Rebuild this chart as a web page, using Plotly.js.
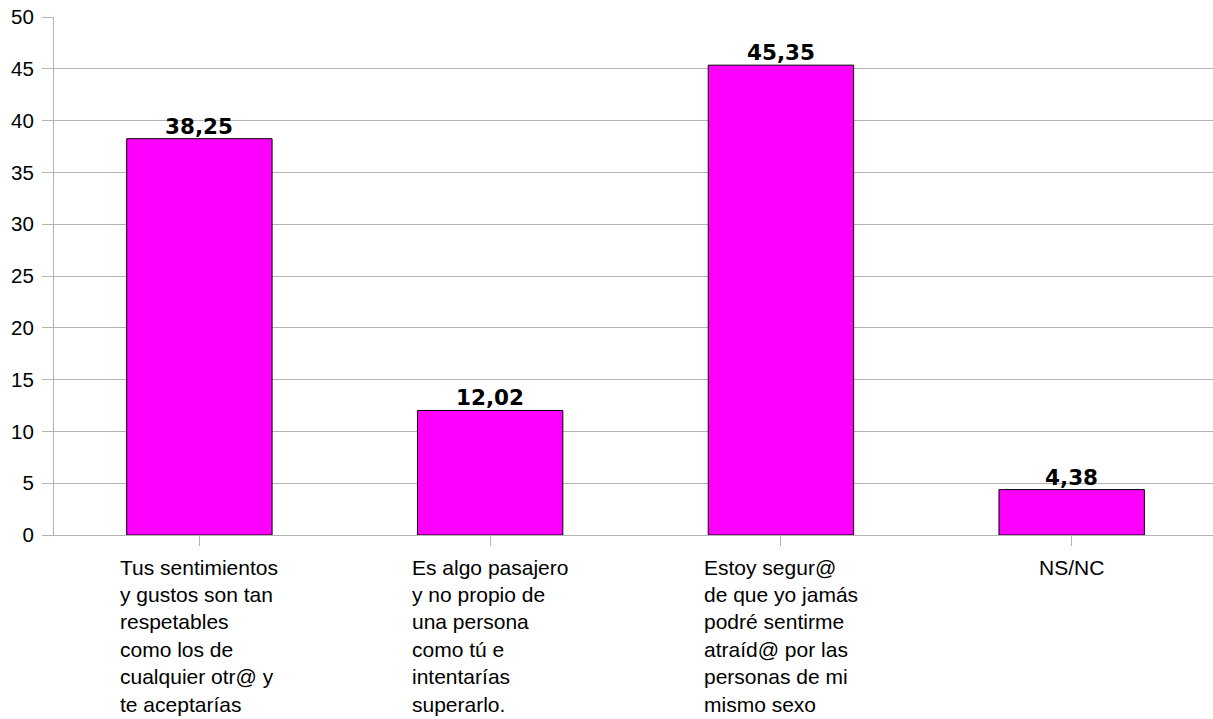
<!DOCTYPE html>
<html>
<head>
<meta charset="utf-8">
<script src="https://cdn.plot.ly/plotly-3.0.1.min.js"></script>
<style>html,body{margin:0;padding:0;background:#fff;}#chart{width:1213px;height:719px;}</style>
</head>
<body>
<div id="chart"></div>
<script>
const categories = [
  ["Tus sentimientos", "y gustos son tan", "respetables", "como los de", "cualquier otr@ y", "te aceptarías"],
  ["Es algo pasajero", "y no propio de", "una persona", "como tú e", "intentarías", "superarlo."],
  ["Estoy segur@", "de que yo jamás", "podré sentirme", "atraíd@ por las", "personas de mi", "mismo sexo"],
  ["NS/NC"]
];
const values = [38.25, 12.02, 45.35, 4.38];
const yTicks = [0, 5, 10, 15, 20, 25, 30, 35, 40, 45, 50];

const xIdx = categories.map((c, i) => i);
const grey = '#b3b3b3';
const labelFont = 'Liberation Sans, Arial, sans-serif';
const labelSize = 21;
const lineStep = 27.4;

// measure line widths so each multi-line label is a left-aligned block centred on its category
const cv = document.createElement('canvas').getContext('2d');
cv.font = labelSize + 'px "Liberation Sans"';
const fmt = v => v.toFixed(2).replace('.', ',');

const trace = {
  type: 'bar',
  x: xIdx,
  y: values,
  width: 0.5,
  marker: {color: '#ff00ff', line: {color: '#000000', width: 1}},
  hoverinfo: 'none'
};

const annotations = [];
values.forEach((v, i) => {
  annotations.push({
    x: i, xref: 'x', y: v, yref: 'y',
    xanchor: 'center', yanchor: 'bottom', yshift: -2,
    text: fmt(v), showarrow: false,
    font: {family: 'DejaVu Sans', size: 21.5, color: '#000000', weight: 'bold'}
  });
});
categories.forEach((lines, i) => {
  const maxW = Math.max(...lines.map(l => cv.measureText(l).width));
  lines.forEach((l, k) => {
    annotations.push({
      x: i, xref: 'x', y: -0.036, yref: 'paper',
      xanchor: 'left', yanchor: 'top',
      xshift: -maxW / 2 - 2, yshift: -lineStep * k,
      align: 'left', text: l, showarrow: false,
      font: {family: labelFont, size: labelSize, color: '#000000'}
    });
  });
});

const layout = {
  width: 1213, height: 719,
  margin: {l: 54, r: 0, t: 17, b: 184},
  paper_bgcolor: '#ffffff', plot_bgcolor: '#ffffff',
  showlegend: false,
  font: {family: labelFont, size: 20, color: '#000000'},
  xaxis: {
    range: [-0.5, 3.486],
    tickvals: xIdx,
    showticklabels: false,
    ticks: 'outside', ticklen: 10, tickcolor: grey, tickwidth: 1,
    showline: true, linecolor: grey, linewidth: 1,
    showgrid: false, zeroline: false, fixedrange: true
  },
  yaxis: {
    range: [0, 50],
    tickvals: yTicks,
    ticktext: yTicks.map(String),
    ticks: 'outside', ticklen: 11, tickcolor: grey, tickwidth: 1,
    ticklabelstandoff: 4,
    showline: true, linecolor: grey, linewidth: 1,
    showgrid: true, gridcolor: grey, gridwidth: 1,
    zeroline: false,
    tickfont: {family: labelFont, size: 20.5, color: '#000000'},
    fixedrange: true
  },
  annotations: annotations
};

Plotly.newPlot('chart', [trace], layout, {displayModeBar: false, staticPlot: true});
</script>
</body>
</html>
